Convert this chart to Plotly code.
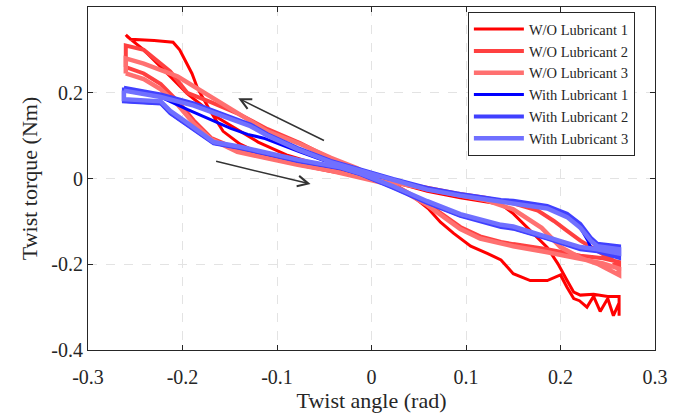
import plotly.graph_objects as go

# ---- data ----
series_names = ["W/O Lubricant 1", "W/O Lubricant 2", "W/O Lubricant 3",
                "With Lubricant 1", "With Lubricant 2", "With Lubricant 3"]
series_colors = ["#ff0000", "#ff4040", "#ff7070", "#0000ff", "#4040ff", "#7070ff"]

wo1_x = [-0.26, -0.255, -0.23, -0.21, -0.203, -0.198, -0.19, -0.184, -0.17, -0.157, -0.139, -0.117,
         -0.096, -0.078, -0.061, -0.043, -0.02, 0.0, 0.02, 0.04, 0.06, 0.073, 0.087, 0.105, 0.123,
         0.137, 0.15, 0.168, 0.186, 0.2, 0.207, 0.214, 0.22, 0.228, 0.235, 0.242, 0.25, 0.256, 0.262,
         0.262, 0.262, 0.25, 0.235, 0.221, 0.214, 0.207, 0.197, 0.186, 0.168, 0.15, 0.137, 0.115,
         0.094, 0.059, 0.031, 0.0, -0.03, -0.06, -0.09, -0.12, -0.142, -0.16, -0.178, -0.195, -0.213,
         -0.231, -0.241, -0.258, -0.26]
wo1_y = [0.335, 0.325, 0.322, 0.318, 0.30, 0.28, 0.245, 0.21, 0.155, 0.11, 0.08, 0.057,
         0.042, 0.032, 0.024, 0.016, 0.008, 0.0, -0.012, -0.035, -0.07, -0.102, -0.128, -0.158, -0.175,
         -0.19, -0.222, -0.238, -0.238, -0.225, -0.254, -0.28, -0.285, -0.30, -0.275, -0.31, -0.28, -0.32, -0.29,
         -0.32, -0.275, -0.275, -0.27, -0.272, -0.265, -0.238, -0.198, -0.161, -0.122, -0.082, -0.06, -0.052,
         -0.045, -0.03, -0.013, 0.003, 0.018, 0.035, 0.055, 0.085, 0.115, 0.138, 0.168, 0.198, 0.238,
         0.277, 0.30, 0.33, 0.335]

wo2_x = [-0.26, -0.241, -0.223, -0.205, -0.188, -0.17, -0.149, -0.114, -0.078, -0.043, 0.01,
         0.023, 0.059, 0.094, 0.115, 0.137, 0.15, 0.186, 0.221, 0.245, 0.262,
         0.262, 0.255, 0.24, 0.221, 0.207, 0.193, 0.176, 0.15, 0.12, 0.09, 0.06, 0.03, 0.0,
         -0.015, -0.043, -0.075, -0.11, -0.14, -0.17, -0.195, -0.213, -0.241, -0.26, -0.26]
wo2_y = [0.26, 0.245, 0.22, 0.18, 0.135, 0.095, 0.075, 0.05, 0.034, 0.02, -0.006,
         -0.013, -0.059, -0.113, -0.135, -0.148, -0.153, -0.165, -0.18, -0.186, -0.195,
         -0.215, -0.19, -0.17, -0.145, -0.122, -0.099, -0.075, -0.058, -0.045, -0.035, -0.022, -0.01, 0.005,
         0.022, 0.046, 0.082, 0.115, 0.15, 0.178, 0.2, 0.25, 0.30, 0.31, 0.26]

wo3_x = [-0.26, -0.241, -0.223, -0.205, -0.188, -0.17, -0.142, -0.114, -0.078, -0.043, 0.01,
         0.023, 0.059, 0.094, 0.115, 0.137, 0.15, 0.186, 0.221, 0.245, 0.262,
         0.262, 0.24, 0.221, 0.2, 0.18, 0.15, 0.12, 0.09, 0.06, 0.03, 0.0,
         -0.015, -0.043, -0.075, -0.11, -0.149, -0.17, -0.205, -0.241, -0.26, -0.26]
wo3_y = [0.245, 0.232, 0.208, 0.172, 0.128, 0.092, 0.062, 0.048, 0.032, 0.018, -0.008,
         -0.016, -0.062, -0.118, -0.14, -0.152, -0.158, -0.172, -0.188, -0.198, -0.21,
         -0.225, -0.2, -0.185, -0.16, -0.115, -0.072, -0.05, -0.038, -0.025, -0.012, 0.005,
         0.024, 0.048, 0.08, 0.11, 0.163, 0.191, 0.238, 0.268, 0.28, 0.245]

with1_x = [-0.262, -0.223, -0.195, -0.17, -0.149, -0.131, -0.114, -0.078, -0.043, -0.008, 0.023,
           0.059, 0.094, 0.137, 0.186, 0.207, 0.221, 0.229, 0.232, 0.262,
           0.262, 0.239, 0.221, 0.2, 0.186, 0.15, 0.094, 0.059, 0.023, -0.012, -0.033, -0.078,
           -0.11, -0.139, -0.167, -0.185, -0.199, -0.213, -0.223, -0.262, -0.262]
with1_y = [0.205, 0.19, 0.161, 0.138, 0.117, 0.103, 0.094, 0.064, 0.036, 0.013, -0.003,
           -0.022, -0.038, -0.052, -0.066, -0.084, -0.115, -0.145, -0.161, -0.184,
           -0.17, -0.168, -0.163, -0.15, -0.14, -0.117, -0.087, -0.057, -0.022, 0.01, 0.024, 0.041,
           0.057, 0.071, 0.082, 0.11, 0.13, 0.152, 0.175, 0.18, 0.205]

with2_x = [-0.262, -0.223, -0.188, -0.16, -0.128, -0.11, -0.078, -0.043, 0.01, 0.023, 0.059,
           0.094, 0.137, 0.15, 0.186, 0.207, 0.221, 0.232, 0.239, 0.262,
           0.262, 0.239, 0.221, 0.2, 0.186, 0.15, 0.137, 0.094, 0.059, 0.023, -0.012, -0.033,
           -0.078, -0.11, -0.139, -0.167, -0.185, -0.199, -0.213, -0.223, -0.262, -0.262]
with2_y = [0.212, 0.196, 0.175, 0.152, 0.126, 0.103, 0.071, 0.041, 0.006, -0.001, -0.022,
           -0.036, -0.05, -0.052, -0.064, -0.082, -0.106, -0.138, -0.152, -0.158,
           -0.185, -0.17, -0.165, -0.15, -0.14, -0.117, -0.113, -0.087, -0.057, -0.022, 0.010, 0.024,
           0.041, 0.057, 0.071, 0.082, 0.11, 0.13, 0.152, 0.175, 0.18, 0.212]

with3_x = [-0.262, -0.223, -0.188, -0.16, -0.128, -0.11, -0.078, -0.043, 0.01, 0.023, 0.059,
           0.094, 0.137, 0.15, 0.186, 0.207, 0.221, 0.232, 0.239, 0.262,
           0.262, 0.239, 0.221, 0.2, 0.186, 0.15, 0.137, 0.094, 0.059, 0.023, -0.012, -0.033,
           -0.078, -0.11, -0.139, -0.167, -0.185, -0.199, -0.213, -0.223, -0.262, -0.262]
with3_y = [0.205, 0.19, 0.17, 0.148, 0.122, 0.1, 0.068, 0.038, 0.004, -0.004, -0.026,
           -0.04, -0.055, -0.058, -0.07, -0.09, -0.115, -0.145, -0.158, -0.165,
           -0.175, -0.165, -0.16, -0.146, -0.136, -0.112, -0.108, -0.083, -0.053, -0.018, 0.012, 0.026,
           0.044, 0.06, 0.074, 0.085, 0.115, 0.136, 0.158, 0.18, 0.185, 0.205]

series_x = [wo1_x, wo2_x, wo3_x, with1_x, with2_x, with3_x]
series_y = [wo1_y, wo2_y, wo3_y, with1_y, with2_y, with3_y]
series_widths = [3, 4, 4.5, 3, 4, 4.5]

x_ticks = [-0.3, -0.2, -0.1, 0, 0.1, 0.2, 0.3]
x_tick_labels = ["-0.3", "-0.2", "-0.1", "0", "0.1", "0.2", "0.3"]
y_ticks = [-0.4, -0.2, 0, 0.2, 0.4]
y_tick_labels = ["-0.4", "-0.2", "0", "0.2", "0.4"]

# arrows: (tail_x, tail_y, head_x, head_y)
arrow_up = (-0.0487, 0.087, -0.141, 0.187)
arrow_down = (-0.166, 0.041, -0.0645, -0.013)

FONT = "Liberation Serif"
AX = "#262626"

fig = go.Figure()
for name, col, xs, ys, w in zip(series_names, series_colors, series_x, series_y, series_widths):
    fig.add_trace(go.Scatter(x=xs, y=ys, mode="lines", name=name,
                             line=dict(color=col, width=w), showlegend=True))

for (tx, ty, hx, hy) in [arrow_up, arrow_down]:
    fig.add_annotation(x=hx, y=hy, ax=tx, ay=ty, xref="x", yref="y", axref="x", ayref="y",
                       showarrow=True, arrowhead=5, arrowsize=1.4, arrowwidth=1.5,
                       arrowcolor="#333333", text="")

axis_common = dict(showline=True, linecolor=AX, linewidth=1, mirror="ticks",
                   ticks="inside", ticklen=5, tickcolor=AX, tickwidth=1,
                   showgrid=True, gridcolor="#e3e3e3", griddash="dash", gridwidth=1,
                   zeroline=False, automargin=False,
                   tickfont=dict(family=FONT, size=20, color="#262626"))

fig.update_xaxes(range=[-0.3, 0.3], tickvals=x_ticks, ticktext=x_tick_labels,
                 title=dict(text="Twist angle (rad)", font=dict(family=FONT, size=22, color="#262626"),
                            standoff=0),
                 ticklabelstandoff=9, **axis_common)
fig.update_yaxes(range=[-0.4, 0.4], tickvals=y_ticks, ticktext=y_tick_labels,
                 title=dict(text="Twist torque (Nm)", font=dict(family=FONT, size=22, color="#262626"),
                            standoff=7),
                 ticklabelstandoff=0, **axis_common)

fig.update_layout(
    width=684, height=417,
    margin=dict(l=88, r=29, t=7, b=67),
    paper_bgcolor="white", plot_bgcolor="white",
    font=dict(family=FONT, color="#262626"),
    legend=dict(x=0.67, y=0.985, xanchor="left", yanchor="top",
                bgcolor="white", bordercolor=AX, borderwidth=1,
                font=dict(family=FONT, size=14.5, color="#262626"),
                itemwidth=50, entrywidth=178,
                tracegroupgap=0),
    showlegend=True,
)

fig.write_html("out.html", config={"displayModeBar": False},
               post_script="document.body.style.margin='0';document.body.style.padding='0';")
